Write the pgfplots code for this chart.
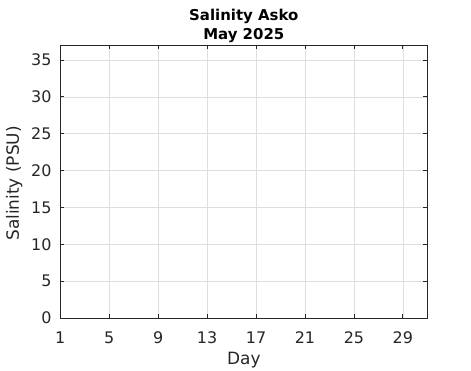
\documentclass[border=0pt]{standalone}
\usepackage{fontspec}
\setmainfont{DejaVu Sans}
\usepackage{pgfplots}
\pgfplotsset{compat=1.18}
\definecolor{axcol}{gray}{0.15}
\definecolor{gridcol}{gray}{0.87}
\begin{document}
\begin{tikzpicture}
\begin{axis}[
  scale only axis, width=367bp, height=272.7bp,
  xmin=1, xmax=31, ymin=0, ymax=37,
  xtick={1,5,...,29}, ytick={0,5,...,35},
  /pgf/number format/assume math mode=true,
  tick label style={font=\fontsize{16}{19}\selectfont, text=axcol, inner sep=0pt},
  grid=major, major grid style={gridcol, line width=0.6bp},
  axis line style={axcol, line width=0.8bp},
  tick style={axcol, line width=0.8bp},
  tick align=inside, major tick length=4bp,
  xticklabel style={anchor=north, yshift=-13.7bp},
  yticklabel style={anchor=east, xshift=-8.6bp},
  xlabel={Day}, ylabel={Salinity (PSU)},
  label style={font=\fontsize{17}{20}\selectfont, text=axcol, inner sep=0pt},
  xlabel style={at={(axis description cs:0.5,0)}, anchor=north, yshift=-34bp},
  ylabel style={at={(axis description cs:0,0.5)}, anchor=south, yshift=37.6bp, xshift=-1.7bp},
  title={Salinity Asko\\May 2025},
  title style={at={(axis description cs:0.5,1)}, anchor=south, inner sep=0pt, yshift=-3.7bp,
    font=\bfseries\fontsize{15}{19.2}\selectfont, align=center, text=black},
]
\end{axis}
\pgfresetboundingbox
\useasboundingbox (-60.3bp,-53bp) rectangle (410.7bp,318bp);
\end{tikzpicture}
\end{document}
